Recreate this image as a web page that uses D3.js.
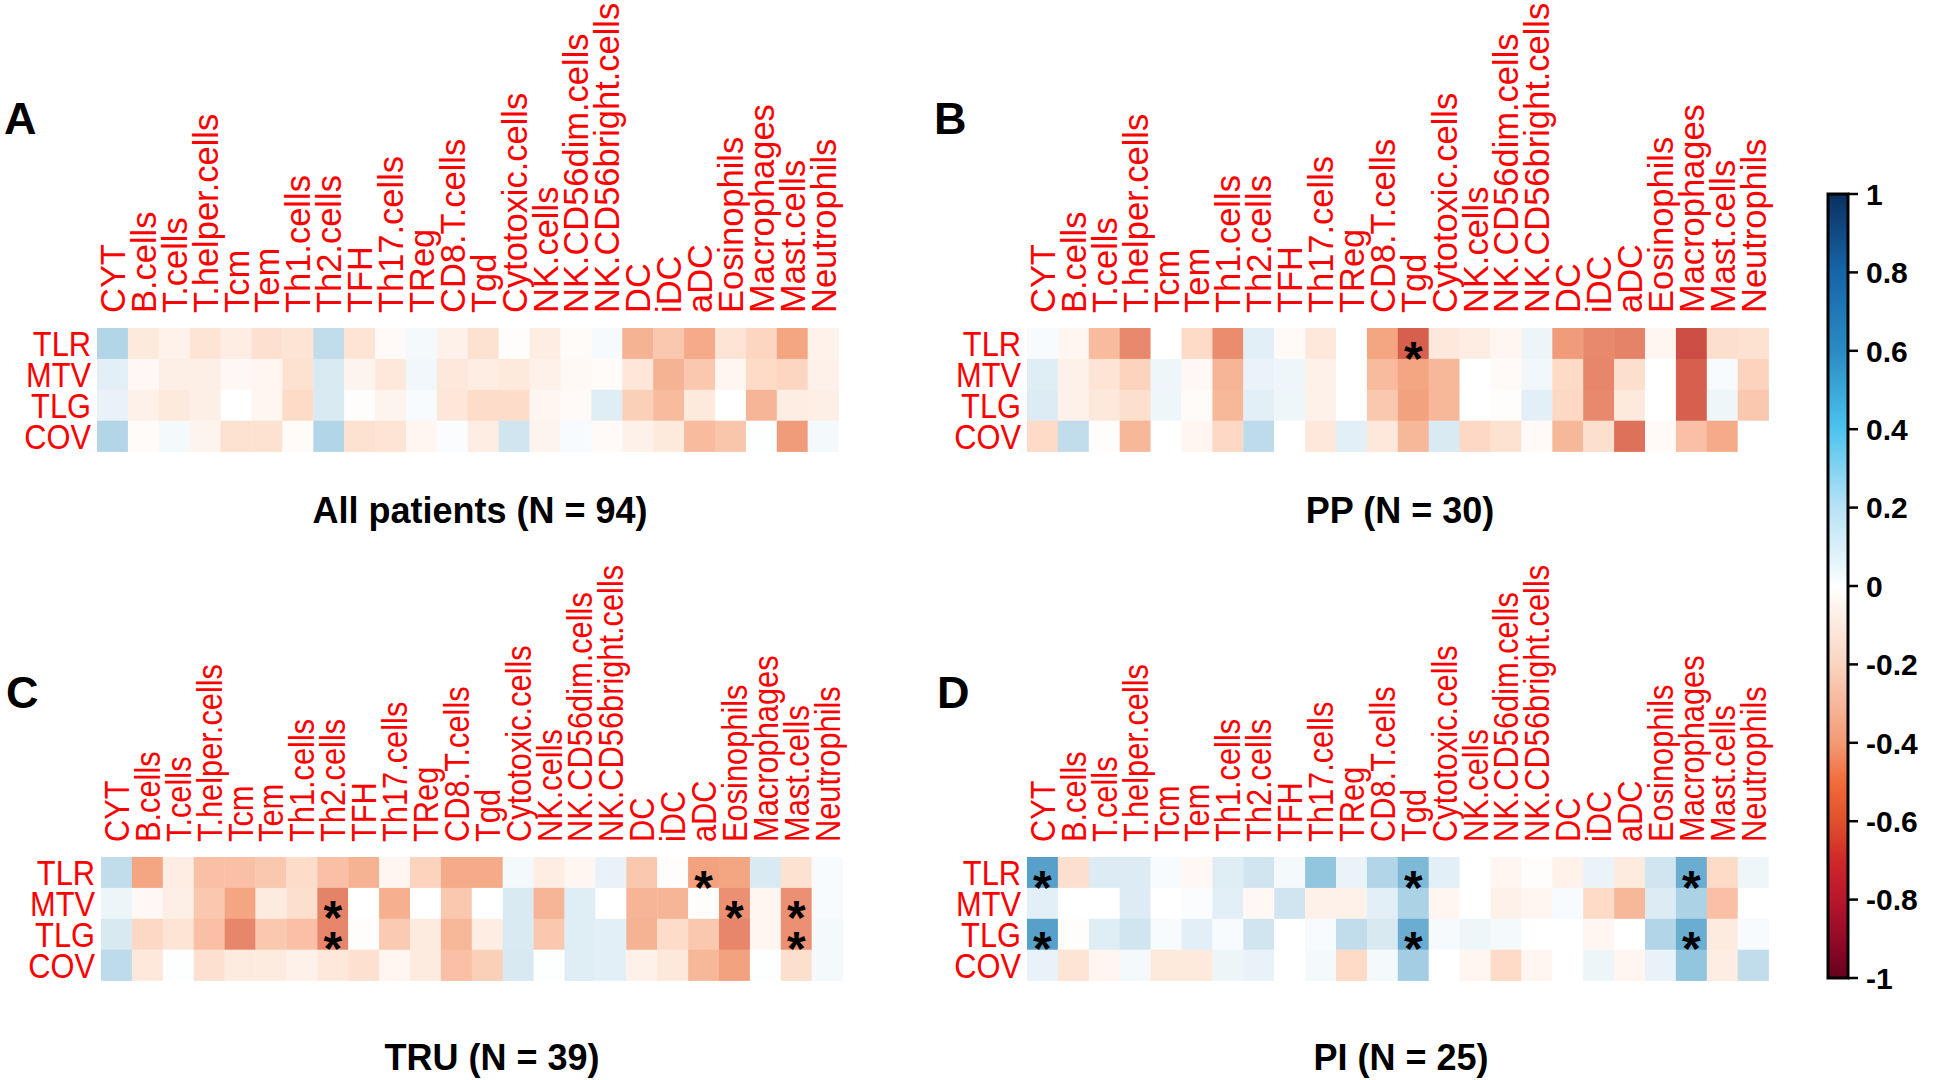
<!DOCTYPE html>
<html><head><meta charset="utf-8">
<script src="https://cdn.jsdelivr.net/npm/d3@7"></script>
<style>
html,body{margin:0;padding:0;background:#fff;}
svg{display:block;}
text{font-family:"Liberation Sans",Arial,sans-serif;}
</style></head>
<body>
<svg id="chart" width="1959" height="1080"></svg>
<script>
const cellTypes = ["CYT","B.cells","T.cells","T.helper.cells","Tcm","Tem","Th1.cells","Th2.cells","TFH","Th17.cells","TReg","CD8.T.cells","Tgd","Cytotoxic.cells","NK.cells","NK.CD56dim.cells","NK.CD56bright.cells","DC","iDC","aDC","Eosinophils","Macrophages","Mast.cells","Neutrophils"];
const metrics = ["TLR","MTV","TLG","COV"];

// Panel A: All patients (N = 94) — rows TLR, MTV, TLG, COV
const allTLR = [0.30,-0.12,-0.07,-0.15,-0.10,-0.17,-0.15,0.25,-0.15,-0.03,0.05,-0.08,-0.16,-0.01,-0.10,-0.02,0.04,-0.35,-0.27,-0.38,-0.15,-0.22,-0.40,-0.07];
const allMTV = [0.12,-0.04,-0.09,-0.09,-0.04,-0.05,-0.16,0.16,-0.06,-0.13,0.06,-0.13,-0.10,-0.12,-0.08,-0.04,-0.02,-0.14,-0.35,-0.27,-0.05,-0.20,-0.22,-0.08];
const allTLG = [0.10,-0.08,-0.12,-0.09,0.00,-0.05,-0.20,0.16,-0.01,-0.06,0.03,-0.14,-0.19,-0.19,-0.05,-0.03,0.14,-0.24,-0.32,-0.12,0.00,-0.34,-0.10,-0.09];
const allCOV = [0.30,-0.02,0.05,-0.06,-0.16,-0.16,-0.02,0.30,-0.16,-0.15,-0.05,0.02,-0.10,0.20,-0.06,0.03,-0.03,-0.08,-0.12,-0.32,-0.28,0.01,-0.43,0.05];

// Panel B: PP (N = 30)
const ppTLR = [0.03,-0.05,-0.32,-0.48,0.00,-0.20,-0.47,0.12,-0.03,-0.13,0.00,-0.40,-0.60,-0.13,-0.10,-0.05,0.08,-0.43,-0.48,-0.50,-0.05,-0.65,-0.18,-0.16];
const ppMTV = [0.14,-0.08,-0.15,-0.23,0.07,-0.04,-0.34,0.09,0.07,-0.08,0.00,-0.32,-0.40,-0.33,0.00,-0.03,0.06,-0.20,-0.49,-0.18,0.00,-0.60,0.03,-0.23];
const ppTLG = [0.15,-0.08,-0.13,-0.18,0.07,-0.02,-0.33,0.12,0.07,-0.08,0.00,-0.27,-0.41,-0.33,0.00,-0.01,0.12,-0.21,-0.48,-0.12,0.00,-0.60,0.07,-0.27];
const ppCOV = [-0.20,0.25,-0.01,-0.33,0.00,-0.05,-0.21,0.26,0.00,-0.13,0.12,-0.13,-0.33,0.16,-0.21,-0.16,-0.03,-0.33,-0.18,-0.55,-0.03,-0.30,-0.38,0.00];

// Panel C: TRU (N = 39)
const truTLR = [0.25,-0.40,-0.10,-0.30,-0.30,-0.27,-0.19,-0.30,-0.35,-0.05,-0.23,-0.38,-0.38,0.05,-0.10,-0.05,0.10,-0.27,-0.01,-0.41,-0.40,0.16,-0.16,0.03];
const truMTV = [0.08,-0.04,-0.09,-0.27,-0.40,-0.11,-0.18,-0.50,0.00,-0.36,0.00,-0.27,0.00,0.16,-0.34,0.14,0.00,-0.34,-0.34,-0.01,-0.46,-0.05,-0.46,0.03];
const truTLG = [0.17,-0.21,-0.15,-0.30,-0.49,-0.27,-0.30,-0.49,-0.01,-0.26,-0.11,-0.33,-0.10,0.16,-0.27,0.14,0.12,-0.35,-0.19,-0.27,-0.49,-0.05,-0.46,0.05];
const truCOV = [0.26,-0.13,0.01,-0.17,-0.11,-0.11,-0.08,-0.13,-0.17,-0.05,-0.11,-0.30,-0.24,0.17,0.01,0.14,0.12,-0.08,-0.13,-0.33,-0.41,0.01,-0.18,0.05];

// Panel D: PI (N = 25)
const piTLR = [0.55,-0.18,0.15,0.15,0.03,-0.04,0.14,0.20,0.05,0.40,0.09,0.30,0.45,0.12,0.00,-0.05,-0.01,-0.07,0.09,-0.11,0.20,0.50,-0.20,0.07];
const piMTV = [0.12,0.00,0.00,0.15,0.00,0.02,0.12,-0.04,0.20,-0.08,-0.08,0.12,0.32,-0.05,0.00,-0.08,-0.05,0.03,-0.20,-0.33,0.15,0.32,-0.30,0.00];
const piTLG = [0.55,-0.01,0.14,0.20,0.03,0.12,0.03,0.20,0.00,0.03,0.25,0.17,0.50,0.04,0.07,0.05,0.00,0.00,-0.05,0.00,0.30,0.50,-0.11,0.03];
const piCOV = [0.10,-0.15,-0.05,0.05,-0.12,-0.12,0.08,0.10,0.00,0.05,-0.20,0.05,0.35,0.00,-0.05,-0.20,-0.05,0.00,0.08,-0.05,0.10,0.40,-0.10,0.25];

// significance marks: [metric, cell type]
const sigAll = [];
const sigPP = [["TLR","Tgd"]];
const sigTRU = [["TLR","aDC"],["MTV","Th2.cells"],["TLG","Th2.cells"],["MTV","Eosinophils"],["MTV","Mast.cells"],["TLG","Mast.cells"]];
const sigPI = [["TLR","CYT"],["TLG","CYT"],["TLR","Tgd"],["TLG","Tgd"],["TLR","Macrophages"],["TLG","Macrophages"]];

const panelLetters = ["A","B","C","D"];
const panelTitles = ["All patients (N = 94)","PP (N = 30)","TRU (N = 39)","PI (N = 25)"];

// colour scale (cells)
const colorDomain = [-1,-0.8,-0.6,-0.4,-0.2,0,0.2,0.4,0.6,0.8,1];
const colorRange = ["#67001F","#B2182B","#D6604D","#F4A582","#FDDBC7","#FFFFFF","#D1E5F0","#92C5DE","#4393C3","#2166AC","#053061"];
// colour bar legend
const barTicks = [1,0.8,0.6,0.4,0.2,0,-0.2,-0.4,-0.6,-0.8,-1];
const barStopValues = [-1,-0.9,-0.8,-0.7,-0.6,-0.5,-0.4,-0.2,0,0.05,0.2,0.4,0.6,0.8,1];
const barStopColors = ["#67001F","#930A27","#B8172C","#D0282A","#E0512B","#F26B38","#F39A75","#FAD4BF","#FFFFFF","#E8F6FC","#B8E3F6","#4CC3EE","#2A8BC2","#1666A8","#0B3060"];

const color = d3.scaleLinear().domain(colorDomain).range(colorRange).interpolate(d3.interpolateRgb).clamp(true);

const svg = d3.select("#chart");
const panelData = [
  [allTLR,allMTV,allTLG,allCOV],
  [ppTLR,ppMTV,ppTLG,ppCOV],
  [truTLR,truMTV,truTLG,truCOV],
  [piTLR,piMTV,piTLG,piCOV]
];
const panelSig = [sigAll,sigPP,sigTRU,sigPI];

const cell = 30.9;
const starSize = 48;
const layout = [
  {x0:97,  y0:328, letterX:4,   letterY:134, titleX:480,  titleY:523, labStretch:0.985},
  {x0:1027,y0:328, letterX:934, letterY:134, titleX:1400, titleY:523, labStretch:0.985},
  {x0:101, y0:857, letterX:6,   letterY:708, titleX:492,  titleY:1070, labStretch:0.88},
  {x0:1027,y0:857, letterX:937, letterY:708, titleX:1401, titleY:1070, labStretch:0.88}
];

panelData.forEach((rows, p) => {
  const L = layout[p];
  const g = svg.append("g");
  const x = d3.scaleBand().domain(cellTypes).range([L.x0, L.x0 + cell*cellTypes.length]);
  const y = d3.scaleBand().domain(metrics).range([L.y0, L.y0 + cell*metrics.length]);
  const flat = [];
  rows.forEach((vals, r) => vals.forEach((v, c) => flat.push({m: metrics[r], t: cellTypes[c], v})));
  g.selectAll("rect.cell").data(flat).enter().append("rect")
    .attr("class","cell")
    .attr("x", d => x(d.t)).attr("y", d => y(d.m))
    .attr("width", x.bandwidth()+0.3).attr("height", y.bandwidth()+0.3)
    .attr("fill", d => color(d.v));
  // column labels
  g.selectAll("text.col").data(cellTypes).enter().append("text")
    .attr("class","col")
    .attr("transform", d => `translate(${x(d)+x.bandwidth()/2+12.5},${L.y0-15}) rotate(-90) scale(${L.labStretch},1)`)
    .attr("fill","#FF0000").attr("font-size",35)
    .text(d => d);
  // row labels
  g.selectAll("text.row").data(metrics).enter().append("text")
    .attr("class","row")
    .attr("transform", d => `translate(${L.x0-6},${y(d)+y.bandwidth()/2+12.5}) scale(0.88,1)`)
    .attr("text-anchor","end")
    .attr("fill","#FF0000").attr("font-size",35)
    .text(d => d);
  // significance stars
  g.selectAll("text.sig").data(panelSig[p]).enter().append("text")
    .attr("class","sig")
    .attr("x", d => x(d[1]) + x.bandwidth()/2)
    .attr("y", d => y(d[0]) + y.bandwidth()/2 + 0.585*starSize + 3)
    .attr("text-anchor","middle")
    .attr("font-size",starSize).attr("font-weight","bold").attr("fill","#000")
    .text("*");
  // panel letter
  g.append("text").attr("x",L.letterX).attr("y",L.letterY)
    .attr("font-size",45).attr("font-weight","bold").text(panelLetters[p]);
  // title
  g.append("text").attr("x",L.titleX).attr("y",L.titleY)
    .attr("text-anchor","middle").attr("font-size",36).attr("font-weight","bold")
    .text(panelTitles[p]);
});

// colour bar
const barX = 1828, barW = 20, barTop = 194, barBottom = 978;
const yb = d3.scaleLinear().domain([-1,1]).range([barBottom, barTop]);
const defs = svg.append("defs");
const grad = defs.append("linearGradient").attr("id","cbar").attr("x1",0).attr("y1",1).attr("x2",0).attr("y2",0);
barStopValues.forEach((v,i) => grad.append("stop").attr("offset", (v+1)/2).attr("stop-color", barStopColors[i]));
svg.append("rect").attr("x",barX).attr("y",barTop).attr("width",barW).attr("height",barBottom-barTop)
  .attr("fill","url(#cbar)").attr("stroke","#000").attr("stroke-width",3);
const tg = svg.append("g").selectAll("g").data(barTicks).enter().append("g");
tg.append("line").attr("x1",barX+barW).attr("x2",barX+barW+10)
  .attr("y1",d=>yb(d)).attr("y2",d=>yb(d)).attr("stroke","#000").attr("stroke-width",2.5);
tg.append("text").attr("x",barX+barW+18).attr("y",d=>yb(d)).attr("dy","0.36em")
  .attr("font-size",30).attr("font-weight","bold").text(d=>d);
</script>
</body></html>
